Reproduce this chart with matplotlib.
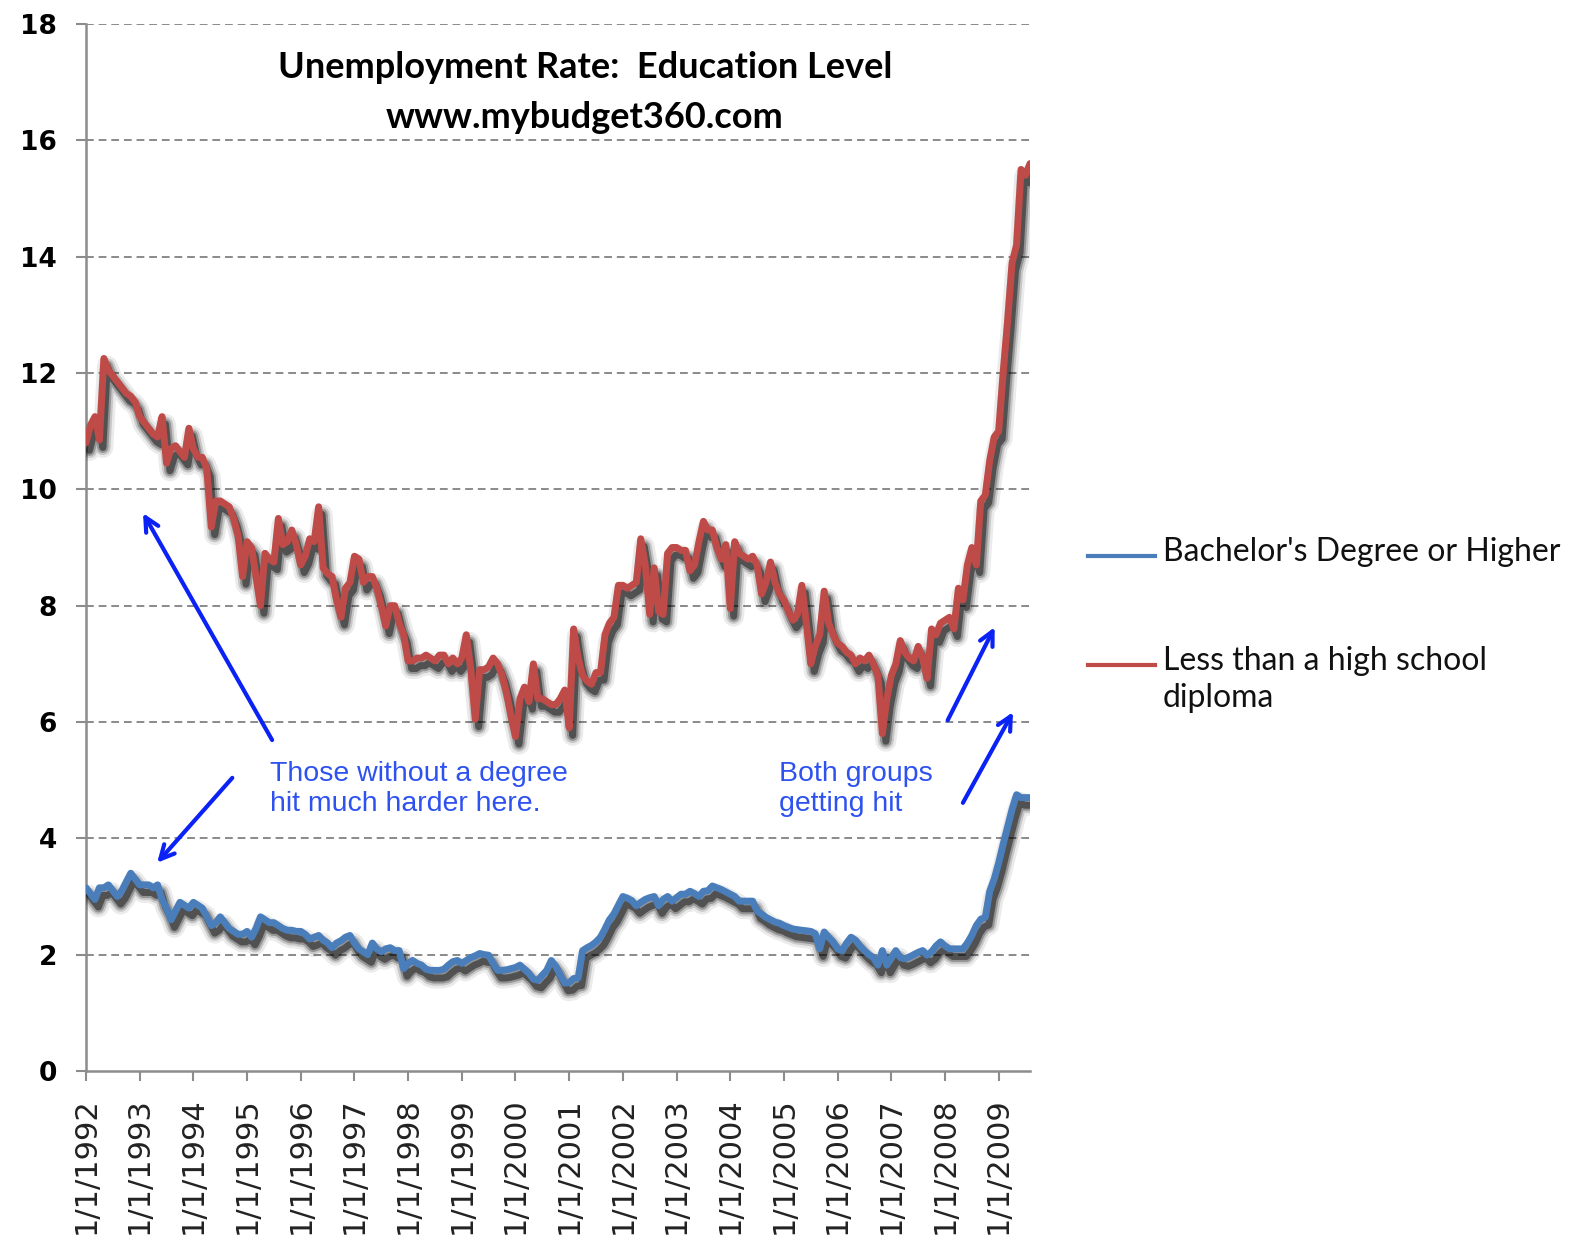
import numpy as np
import matplotlib
matplotlib.use("Agg")
import matplotlib.pyplot as plt
import matplotlib.patheffects as pe
from matplotlib.lines import Line2D

# monthly unemployment rate, Jan 1992 - Aug 2009
years = list(range(1992, 2010))

bachelor = [
    3.15, 3.05, 2.95, 3.15, 3.15, 3.2, 3.1, 3.0, 3.1, 3.25, 3.4, 3.3,        # 1992
    3.2, 3.2, 3.2, 3.15, 3.2, 2.95, 2.8, 2.6, 2.75, 2.9, 2.85, 2.8,          # 1993
    2.9, 2.85, 2.8, 2.65, 2.5, 2.55, 2.65, 2.55, 2.45, 2.4, 2.35, 2.35,      # 1994
    2.4, 2.3, 2.45, 2.65, 2.6, 2.55, 2.55, 2.5, 2.45, 2.42, 2.42, 2.4,       # 1995
    2.4, 2.35, 2.27, 2.3, 2.33, 2.25, 2.2, 2.12, 2.2, 2.24, 2.3, 2.33,       # 1996
    2.2, 2.1, 2.05, 2.0, 2.2, 2.1, 2.05, 2.1, 2.12, 2.07, 2.07, 1.76,        # 1997
    1.85, 1.9, 1.85, 1.82, 1.75, 1.73, 1.73, 1.73, 1.75, 1.82, 1.88, 1.9,    # 1998
    1.85, 1.9, 1.95, 1.98, 2.02, 2.0, 1.99, 1.85, 1.73, 1.73, 1.74, 1.76,    # 1999
    1.78, 1.82, 1.75, 1.68, 1.58, 1.56, 1.65, 1.73, 1.9, 1.8, 1.65, 1.51,    # 2000
    1.52, 1.59, 1.6, 2.07, 2.12, 2.16, 2.22, 2.3, 2.44, 2.6, 2.7, 2.85,      # 2001
    3.0, 2.97, 2.93, 2.84, 2.9, 2.95, 2.98, 3.0, 2.84, 2.95, 3.0, 2.92,      # 2002
    2.98, 3.04, 3.04, 3.09, 3.05, 3.0, 3.09, 3.1, 3.18, 3.15, 3.12, 3.08,    # 2003
    3.04, 3.0, 2.92, 2.92, 2.92, 2.92, 2.75, 2.7, 2.64, 2.6, 2.56, 2.54,     # 2004
    2.5, 2.47, 2.44, 2.43, 2.42, 2.41, 2.4, 2.36, 2.1, 2.39, 2.3, 2.22,      # 2005
    2.1, 2.07, 2.2, 2.3, 2.25, 2.15, 2.07, 2.0, 1.95, 1.82, 2.07, 1.82,      # 2006
    1.95, 2.07, 1.95, 1.93, 1.96, 2.0, 2.04, 2.07, 1.99, 2.05, 2.15, 2.22,   # 2007
    2.15, 2.1, 2.1, 2.1, 2.1, 2.2, 2.33, 2.5, 2.61, 2.64, 3.09, 3.3,         # 2008
    3.58, 3.9, 4.2, 4.5, 4.75, 4.7, 4.7, 4.7,                                # 2009
]

no_diploma = [
    10.8, 11.1, 11.25, 10.85, 12.25, 12.05, 11.95, 11.85, 11.75, 11.65, 11.6, 11.5,  # 1992
    11.25, 11.15, 11.05, 10.95, 10.9, 11.25, 10.45, 10.7, 10.75, 10.65, 10.55, 11.05,  # 1993
    10.7, 10.55, 10.55, 10.35, 9.35, 9.8, 9.8, 9.75, 9.7, 9.5, 9.2, 8.5,     # 1994
    9.1, 9.0, 8.5, 8.0, 8.9, 8.8, 8.75, 9.5, 9.05, 9.1, 9.3, 9.05,           # 1995
    8.7, 8.85, 9.15, 9.1, 9.7, 8.65, 8.55, 8.5, 8.1, 7.8, 8.3, 8.4,          # 1996
    8.85, 8.8, 8.4, 8.5, 8.5, 8.3, 8.0, 7.65, 8.0, 8.0, 7.7, 7.5,            # 1997
    7.05, 7.05, 7.1, 7.1, 7.15, 7.1, 7.05, 7.15, 7.15, 7.0, 7.1, 7.0,        # 1998
    7.1, 7.5, 6.9, 6.05, 6.9, 6.9, 6.95, 7.1, 7.0, 6.8, 6.5, 6.1,            # 1999
    5.75, 6.4, 6.6, 6.35, 7.0, 6.4, 6.4, 6.35, 6.3, 6.3, 6.4, 6.55,          # 2000
    5.9, 7.6, 7.1, 6.8, 6.7, 6.65, 6.85, 6.85, 7.5, 7.7, 7.8, 8.35,          # 2001
    8.35, 8.3, 8.35, 8.4, 9.15, 8.7, 7.85, 8.65, 7.9, 7.85, 8.9, 9.0,        # 2002
    9.0, 8.95, 8.95, 8.6, 8.7, 9.1, 9.45, 9.3, 9.3, 9.0, 8.8, 9.05,          # 2003
    7.95, 9.1, 8.9, 8.85, 8.8, 8.85, 8.7, 8.2, 8.4, 8.75, 8.4, 8.2,          # 2004
    8.1, 7.9, 7.75, 7.85, 8.35, 7.7, 7.0, 7.3, 7.5, 8.25, 7.7, 7.5,          # 2005
    7.35, 7.3, 7.2, 7.15, 7.0, 7.1, 7.05, 7.15, 7.0, 6.8, 5.8, 6.4,          # 2006
    6.8, 7.0, 7.4, 7.2, 7.1, 7.05, 7.3, 7.1, 6.75, 7.6, 7.5, 7.7,            # 2007
    7.75, 7.8, 7.6, 8.3, 8.1, 8.7, 9.0, 8.7, 9.8, 9.9, 10.5, 10.9,           # 2008
    11.0, 12.0, 12.9, 13.9, 14.2, 15.5, 15.4, 15.6,                          # 2009
]

series_names = ["Bachelor's Degree or Higher", "Less than a high school\ndiploma"]
series_colors = ["#4A7EBB", "#BE4B48"]

W, H = 1579, 1250
fig = plt.figure(figsize=(W / 100, H / 100), dpi=100)
ax = fig.add_axes([86 / W, 1 - 1071 / H, (1030 - 86) / W, (1071 - 24) / H])

months = np.arange(len(no_diploma))

# soft drop shadow like the Excel original
shadow = [
    pe.SimpleLineShadow(offset=(2.5, -5.5), shadow_color="k", alpha=0.08, linewidth=15),
    pe.SimpleLineShadow(offset=(2.5, -5.5), shadow_color="k", alpha=0.15, linewidth=11),
    pe.SimpleLineShadow(offset=(2.5, -5.5), shadow_color="k", alpha=0.25, linewidth=8),
    pe.SimpleLineShadow(offset=(2.5, -5.5), shadow_color="k", alpha=0.45, linewidth=5),
    pe.Normal(),
]

for vals, col in zip([bachelor, no_diploma], series_colors):
    ax.plot(months, vals, color=col, lw=5, solid_joinstyle="round",
            solid_capstyle="round", path_effects=shadow, zorder=3)

ax.set_xlim(0, len(no_diploma) - 1)
ax.set_ylim(0, 18)
ax.set_yticks(range(0, 19, 2))
ax.set_xticks([12 * i for i in range(len(years))])
ax.set_xticklabels([f"1/1/{y}" for y in years], rotation=90,
                   fontsize=22, color="#222222")
for lab in ax.get_yticklabels():
    lab.set_fontsize(19)
    lab.set_fontweight("bold")

for v in range(2, 19, 2):
    ax.axhline(v, color="#8A8A8A", lw=1.4, ls=(0, (4, 2.5)), zorder=1)

for s in ["top", "right"]:
    ax.spines[s].set_visible(False)
for s in ["left", "bottom"]:
    ax.spines[s].set_color("#8C8C8C")
    ax.spines[s].set_linewidth(1.8)
ax.tick_params(axis="both", direction="out", length=7, width=1.5, color="#8C8C8C")
ax.tick_params(axis="y", pad=14)
ax.tick_params(axis="x", pad=12)

# title inside the plot
fig.text(585 / W, 1 - 68 / H, "Unemployment Rate:  Education Level",
         ha="center", va="center", fontsize=26, fontweight="bold", family="Lato")
fig.text(585 / W, 1 - 117 / H, "www.mybudget360.com",
         ha="center", va="center", fontsize=26, fontweight="bold", family="Lato")

# annotations
txt_col = "#2E52F0"
arr_col = "#0A22F5"
ax.text(41.2, 4.85, "Those without a degree\nhit much harder here.", color=txt_col,
        fontsize=20.5, va="center", ha="left", linespacing=1.2, family="Liberation Sans")
ax.text(155, 4.85, "Both groups\ngetting hit", color=txt_col,
        fontsize=20.5, va="center", ha="left", linespacing=1.2, family="Liberation Sans")

arrows = [((41.6, 5.69), (12.75, 9.59)),
          ((32.7, 5.04), (15.9, 3.58)),
          ((192.6, 6.03), (203.1, 7.63)),
          ((196.0, 4.61), (207.2, 6.17))]
for tail, head in arrows:
    ax.annotate("", xy=head, xytext=tail,
                arrowprops=dict(arrowstyle="->,head_length=1.0,head_width=0.5",
                                color=arr_col, lw=3, shrinkA=0, shrinkB=0),
                zorder=4)

# legend drawn by hand on the right
for (ly, name), col in zip([(556, series_names[0]), (665, series_names[1])], series_colors):
    fig.add_artist(Line2D([1088 / W, 1155 / W], [1 - ly / H, 1 - ly / H],
                          color=col, lw=3, transform=fig.transFigure))
    fig.text(1163 / W, 1 - (ly - 19) / H, name, ha="left", va="top", fontsize=23,
             family="Lato", color="#111111", linespacing=1.3)

fig.savefig("out.png", dpi=100)
